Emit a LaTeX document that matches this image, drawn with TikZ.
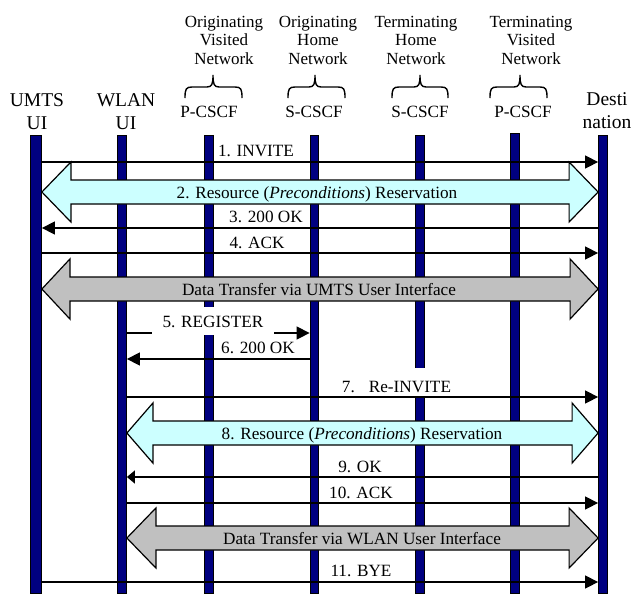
\documentclass[tikz,border=0pt]{standalone}
\usepackage{fontspec}
\setmainfont{Liberation Serif}
\usetikzlibrary{arrows.meta,calc}

\definecolor{barblue}{HTML}{000080}
\definecolor{resvcyan}{HTML}{CCFFFF}
\definecolor{datagray}{HTML}{C0C0C0}

\tikzset{
  lifeline/.style={draw=black, line width=0.8pt, fill=barblue, minimum width=9pt,
    minimum height=458pt, inner sep=0pt, anchor=north},
  msg/.style={line width=1.4pt, -{Triangle[length=13pt,width=13pt]}},
  shortmsg/.style={line width=1.4pt, -{Triangle[length=8pt,width=13pt]}},
  lbl/.style={font=\fontsize{17.2}{20}\selectfont, inner sep=0pt, anchor=base},
  hdr/.style={font=\fontsize{17}{18.5}\selectfont, align=center, inner sep=0pt, anchor=base},
  ifc/.style={font=\fontsize{19.5}{23}\selectfont, align=center, inner sep=0pt, anchor=base},
  resv/.style={draw=black, line width=1.2pt, fill=resvcyan},
  datapipe/.style={draw=black, line width=1.2pt, fill=datagray},
  netbracket/.style={line width=1.4pt},
}

% curly bracket grouping a CSCF under its network name: left, tip, right x
\newcommand{\netbrace}[3]{%
  \draw[netbracket] (#1,98) .. controls (#1,89) and (#1+1,87) .. (#1+7,87)
    -- (#2-6,87) .. controls (#2-1,87) and (#2,84) .. (#2,75)
    .. controls (#2,84) and (#2+1,87) .. (#2+6,87)
    -- (#3-7,87) .. controls (#3-1,87) and (#3,89) .. (#3,98);}

% two-headed block arrow between two points: style, left end, right end, head length
\newcommand{\blockarrow}[4]{%
  \filldraw[#1] (#2) -- ($(#2)+(#4,-30)$) -- ($(#2)+(#4,-12)$)
    -- ($(#3)+(-#4,-12)$) -- ($(#3)+(-#4,-30)$) -- (#3)
    -- ($(#3)+(-#4,30)$) -- ($(#3)+(-#4,12)$)
    -- ($(#2)+(#4,12)$) -- ($(#2)+(#4,30)$) -- cycle;}

\begin{document}
\begin{tikzpicture}[x=1pt, y=-1pt]
\useasboundingbox (0,0) rectangle (631,595);

% network names (base = last line) and brackets
\node[hdr] (ovn) at (224,64) {Originating\\Visited\\Network};
\node[hdr] (ohn) at (318,64) {Originating\\Home\\Network};
\node[hdr] (thn) at (416,64) {Terminating\\Home\\Network};
\node[hdr] (tvn) at (531,64) {Terminating\\Visited\\Network};
\netbrace{185}{213}{242}
\netbrace{288}{315}{345}
\netbrace{392}{420}{448}
\netbrace{490}{520}{547}

% entity names
\node[ifc] (umtsname) at (37,129) {UMTS\\UI};
\node[ifc] (wlanname) at (126,129) {WLAN\\UI};
\node[lbl] (opname) at (209,117) {P-CSCF};
\node[lbl] (osname) at (314,117) {S-CSCF};
\node[lbl] (tsname) at (420,117) {S-CSCF};
\node[lbl] (tpname) at (523,117) {P-CSCF};
\node[ifc] (destname) at (607,128) {Desti\\nation};

% lifelines
\node[lifeline, minimum width=11pt] (umts) at (36,135) {};
\node[lifeline] (wlan) at (122,135) {};
\node[lifeline] (opc) at (209,135) {};
\node[lifeline, minimum width=8pt] (osc) at (314,135) {};
\node[lifeline] (tsc) at (419.5,135) {};
\node[lifeline, minimum height=460pt] (tpc) at (515,133) {};
\node[lifeline] (dest) at (603,135) {};

% message rows
\coordinate (r1) at (0,162);
\coordinate (r2) at (0,192);
\coordinate (r3) at (0,228);
\coordinate (r4) at (0,253);
\coordinate (rd1) at (0,289);
\coordinate (r5) at (0,333);
\coordinate (r6) at (0,359);
\coordinate (r7) at (0,397);
\coordinate (r8) at (0,433);
\coordinate (r9) at (0,477);
\coordinate (r10) at (0,503);
\coordinate (rd2) at (0,538);
\coordinate (r11) at (0,582);

% block arrows
\coordinate (a2l) at (umts.east |- r2);
\coordinate (a2r) at (dest.west |- r2);
\blockarrow{resv}{a2l}{a2r}{29}
\coordinate (d1l) at (umts.east |- rd1);
\coordinate (d1r) at (dest.west |- rd1);
\blockarrow{datapipe}{d1l}{d1r}{28}
\coordinate (a8l) at (wlan.east |- r8);
\coordinate (a8r) at (dest.west |- r8);
\blockarrow{resv}{a8l}{a8r}{26}
\coordinate (d2l) at (wlan.east |- rd2);
\coordinate (d2r) at (dest.west |- rd2);
\blockarrow{datapipe}{d2l}{d2r}{29}

\node[lbl] (l2) at (317,198) {2. Resource (\textit{Preconditions}) Reservation};
\node[lbl] (ld1) at (319,295) {Data Transfer via UMTS User Interface};
\node[lbl] (l8) at (362,439) {8. Resource (\textit{Preconditions}) Reservation};
\node[lbl] (ld2) at (362,544) {Data Transfer via WLAN User Interface};

% signalling messages
\draw[msg] (umts.east |- r1) -- (dest.west |- r1);
\node[lbl] (l1) at (256,156) {1. INVITE};
\draw[msg] (dest.west |- r3) -- (umts.east |- r3);
\node[lbl] (l3) at (266,222) {3. 200 OK};
\draw[msg] (umts.east |- r4) -- (dest.west |- r4);
\node[lbl] (l4) at (257,248) {4. ACK};
\draw[msg] (wlan.east |- r5) -- (osc.west |- r5);
\node[lbl, fill=white, text height=20pt, text depth=8pt, inner xsep=11pt] (l5) at (213,327) {5. REGISTER};
\draw[msg] (osc.west |- r6) -- (wlan.east |- r6);
\node[lbl] (l6) at (258,353) {6. 200 OK};
\node[lbl, fill=white, text height=24pt, text depth=4pt, inner xsep=3pt] (l7) at (396.5,392) {7.\hspace{14pt}Re-INVITE};
\draw[msg] (wlan.east |- r7) -- (dest.west |- r7);
\draw[shortmsg] (dest.west |- r9) -- (wlan.east |- r9);
\node[lbl] (l9) at (360,472) {9. OK};
\draw[msg] (wlan.east |- r10) -- (dest.west |- r10);
\node[lbl] (l10) at (361,498) {10. ACK};
\draw[msg] (umts.east |- r11) -- (dest.west |- r11);
\node[lbl] (l11) at (361,576) {11. BYE};
\end{tikzpicture}
\end{document}
